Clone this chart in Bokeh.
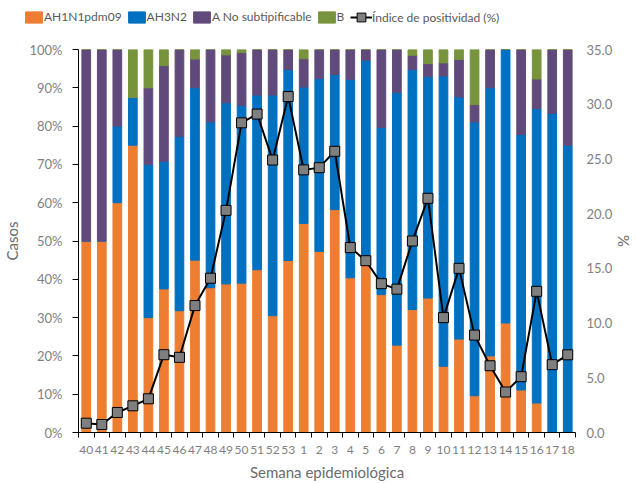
from bokeh.plotting import figure
from bokeh.layouts import column
from bokeh.models import (Range1d, LinearAxis, FixedTicker, PrintfTickFormatter,
                          NumeralTickFormatter, Legend, LegendItem, ColumnDataSource)
from bokeh.embed import file_html
from bokeh.resources import INLINE

weeks = ["40", "41", "42", "43", "44", "45", "46", "47", "48", "49", "50", "51", "52", "53",
         "1", "2", "3", "4", "5", "6", "7", "8", "9", "10", "11", "12", "13", "14", "15",
         "16", "17", "18"]
ah1n1 = [50, 50, 60, 75, 30, 37.5, 31.8, 45, 37.8, 38.8, 39.0, 42.5, 30.5, 44.9,
         54.6, 47.3, 58.2, 40.4, 43.9, 36.0, 22.8, 32.1, 35.1, 17.3, 24.4, 9.6, 20.0,
         28.6, 11.1, 7.7, 0, 0]
ah3n2 = [0, 0, 20, 12.5, 40, 33.3, 45.5, 45, 43.3, 47.3, 46.4, 45.6, 57.6, 49.9,
         35.6, 45.1, 35.3, 51.8, 53.3, 43.6, 66.0, 62.7, 57.8, 75.8, 63.2, 71.5, 70.0,
         71.4, 66.7, 76.9, 83.3, 75]
a_nosub = [50, 50, 20, 0, 20, 25, 22.7, 7.5, 18.9, 12.5, 13.8, 11.9, 11.9, 5.2,
           7.4, 7.6, 6.5, 7.8, 2.8, 20.4, 11.2, 3.7, 3.4, 3.4, 9.8, 4.5, 10.0,
           0, 22.2, 7.7, 16.7, 25]
b = [0, 0, 0, 12.5, 10, 4.2, 0, 2.5, 0, 1.4, 0.8, 0, 0, 0,
     2.4, 0, 0, 0, 0, 0, 0, 1.5, 3.7, 3.5, 2.6, 14.4, 0,
     0, 0, 7.7, 0, 0]
positividad = [0.85, 0.73, 1.83, 2.44, 3.08, 7.11, 6.87, 11.6, 14.1, 20.3,
               28.3, 29.1, 24.9, 30.7,
               24.0, 24.2, 25.7, 16.9, 15.7, 13.6, 13.1, 17.5, 21.4, 10.5, 15.0,
               8.9, 6.1, 3.7, 5.1, 12.9, 6.2, 7.1]

series_names = ["AH1N1pdm09", "AH3N2", "A No subtipificable", "B"]
line_name = "Índice de positividad (%)"
colors = ["#ED7D31", "#0070C0", "#604A7B", "#77933C"]

FONT = "Lato"
TICK_COL = "#7f7f7f"
TITLE_COL = "#6b6b6b"
LEG_COL = "#595959"
LEG_H = 34

x = [i + 0.5 for i in range(len(weeks))]
source = ColumnDataSource(dict(x=x, ah1=ah1n1, ah3=ah3n2, ans=a_nosub, b=b, pos=positividad))
stack_cols = ["ah1", "ah3", "ans", "b"]

p = figure(width=636, height=483 - LEG_H, x_range=Range1d(0, len(weeks)), y_range=Range1d(0, 100),
           output_backend="svg", toolbar_location=None,
           min_border_left=72, min_border_right=54, min_border_top=49 - LEG_H, min_border_bottom=43)
p.frame_align = False
p.extra_y_ranges = {"pct": Range1d(0, 35)}
p.xgrid.visible = False
p.ygrid.visible = False
p.outline_line_color = None

bars = p.vbar_stack(stack_cols, x="x", width=0.56, color=colors, source=source)
ln = p.line("x", "pos", source=source, y_range_name="pct", line_color="black", line_width=2)
sc = p.scatter("x", "pos", source=source, y_range_name="pct", marker="square", size=10,
               fill_color="#7f7f7f", line_color="black", line_width=1)

# x axis
xa = p.xaxis[0]
xa.ticker = FixedTicker(ticks=x, minor_ticks=list(range(len(weeks) + 1)))
xa.major_label_overrides = {xi: w for xi, w in zip(x, weeks)}
xa.major_tick_out = 0
xa.major_tick_in = 0
xa.minor_tick_out = 5
xa.minor_tick_in = 0
xa.minor_tick_line_color = "black"
xa.axis_line_color = "black"
xa.major_label_standoff = 8
xa.major_label_text_font = FONT
xa.major_label_text_font_size = "12px"
xa.major_label_text_color = TICK_COL
xa.axis_label = "Semana epidemiológica"
xa.axis_label_text_font = FONT
xa.axis_label_text_font_size = "15px"
xa.axis_label_text_font_style = "normal"
xa.axis_label_text_color = TITLE_COL
xa.axis_label_standoff = 6

# left axis
ya = p.yaxis[0]
ya.ticker = FixedTicker(ticks=list(range(0, 101, 10)))
ya.formatter = PrintfTickFormatter(format="%d%%")
ya.major_tick_out = 6
ya.major_tick_in = 0
ya.minor_tick_line_color = None
ya.axis_line_color = "black"
ya.major_tick_line_color = "black"
ya.major_label_standoff = 10
ya.major_label_text_font = FONT
ya.major_label_text_font_size = "13px"
ya.major_label_text_color = TICK_COL
ya.axis_label = "Casos"
ya.axis_label_text_font = FONT
ya.axis_label_text_font_size = "15px"
ya.axis_label_text_font_style = "normal"
ya.axis_label_text_color = TITLE_COL
ya.axis_label_standoff = 5

# right axis
ra = LinearAxis(y_range_name="pct", ticker=FixedTicker(ticks=list(range(0, 36, 5))),
                formatter=NumeralTickFormatter(format="0.0"))
ra.axis_line_color = None
ra.major_tick_line_color = None
ra.major_tick_out = 0
ra.major_tick_in = 0
ra.minor_tick_line_color = None
ra.major_label_standoff = 11
ra.major_label_text_font = FONT
ra.major_label_text_font_size = "13px"
ra.major_label_text_color = TICK_COL
ra.axis_label = "%"
ra.axis_label_text_font = FONT
ra.axis_label_text_font_size = "15px"
ra.axis_label_text_font_style = "normal"
ra.axis_label_text_color = TITLE_COL
ra.axis_label_standoff = 0
p.add_layout(ra, "right")

# legend strip: same data drawn out of view, so only the legends show
lf = figure(width=636, height=LEG_H, x_range=Range1d(0, len(weeks)), y_range=Range1d(1000, 1001),
            output_backend="svg", toolbar_location=None,
            x_axis_location=None, y_axis_location=None,
            min_border_left=0, min_border_right=0, min_border_top=0, min_border_bottom=0)
lf.frame_align = False
lf.xgrid.visible = False
lf.ygrid.visible = False
lf.outline_line_color = None
l_bars = lf.vbar_stack(stack_cols, x="x", width=0.56, color=colors, source=source)
l_ln = lf.line("x", "pos", source=source, line_color="black", line_width=2)
l_sc = lf.scatter("x", "pos", source=source, marker="square", size=10,
                  fill_color="#7f7f7f", line_color="black", line_width=1)

common = dict(orientation="horizontal", padding=0, margin=0, border_line_color=None,
              background_fill_alpha=0, label_text_font=FONT, label_text_font_size="12px",
              label_text_color=LEG_COL, label_height=14)
legend1 = Legend(items=[LegendItem(label=n, renderers=[r]) for n, r in zip(series_names, l_bars)],
                 location=(23, 10), glyph_width=21, glyph_height=14, label_standoff=0,
                 spacing=4, **common)
legend2 = Legend(items=[LegendItem(label=line_name, renderers=[l_ln, l_sc])],
                 location=(350, 6), glyph_width=22, glyph_height=22, label_standoff=0,
                 spacing=4, **common)
lf.add_layout(legend1, "center")
lf.add_layout(legend2, "center")

layout = column(lf, p, spacing=0)
open("out.html", "w").write(file_html(layout, INLINE))
